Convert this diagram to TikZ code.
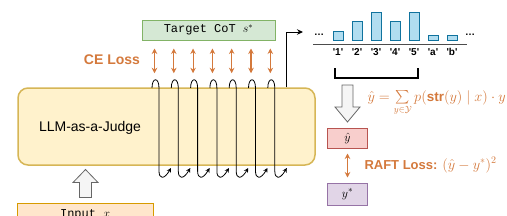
\documentclass[tikz,border=0pt]{standalone}
\usepackage{amsmath,amssymb}
\usepackage{fontspec}
\setmainfont{Liberation Sans}
\setmonofont{Liberation Mono}
\usetikzlibrary{calc, positioning, arrows.meta}

\definecolor{lossc}{HTML}{D4793C}
\definecolor{tgtfill}{HTML}{D5E8D4}
\definecolor{tgtline}{HTML}{82B366}
\definecolor{llmfill}{HTML}{FFF2CC}
\definecolor{llmline}{HTML}{D6B656}
\definecolor{hatfill}{HTML}{F8CECC}
\definecolor{hatline}{HTML}{B85450}
\definecolor{gtfill}{HTML}{E1D5E7}
\definecolor{gtline}{HTML}{9673A6}
\definecolor{infill}{HTML}{FFE6CC}
\definecolor{inline}{HTML}{D79B00}
\definecolor{barfill}{HTML}{B1DDF0}
\definecolor{barline}{HTML}{10739E}
\newcommand{\sq}[1]{\textquotesingle#1\textquotesingle}

\begin{document}
\begin{tikzpicture}[
  x=1pt, y=-1pt,
  box/.style={draw, line width=1pt, inner sep=0pt},
  monobox/.style={box, font=\ttfamily\fontsize{12}{14}\selectfont},
  tgtbox/.style={monobox, fill=tgtfill, draw=tgtline, minimum width=133pt, minimum height=20pt},
  inbox/.style={monobox, fill=infill, draw=inline, minimum width=136pt, minimum height=24pt},
  valbox/.style={box, minimum width=40pt, minimum height=20pt, font=\fontsize{13}{15}\selectfont},
  loss/.style={text=lossc, font=\bfseries\fontsize{14}{16}\selectfont},
  lossarr/.style={{Stealth[length=5.5pt,width=5.5pt]}-{Stealth[length=5.5pt,width=5.5pt]},
    draw=lossc, line width=1.2pt},
  coil/.style={-{Stealth[length=4.5pt,width=4.5pt]}, line width=0.8pt},
  bar/.style={draw=barline, fill=barfill, line width=0.8pt},
  lbl/.style={font=\bfseries\fontsize{10}{12}\selectfont},
  hollow/.style={draw=black!60, fill=black!4, line width=0.8pt, line join=miter}]
  \useasboundingbox (0,0) rectangle (507,215);
  \clip (0,0) rectangle (507,215);
  % Judge model
  \node[box, fill=llmfill, draw=llmline, line width=1.5pt, rounded corners=10pt,
    minimum width=297pt, minimum height=77pt] (llm) at (166.5,126.5) {};
  \node[font=\fontsize{14}{16}\selectfont] (llmtxt) at (90,128) {LLM-as-a-Judge};
  \node[tgtbox] (tgt) at (208.5,30) {Target CoT $s^*$};
  \node[inbox] (in) at (85,215) {Input $x$};
  % Token-by-token decoding
  \foreach \i in {0,...,6} {
    \pgfmathsetmacro{\xa}{152+19.3*\i}
    \draw[coil] (\xa,88) .. controls (\xa,77) and (\xa+7,77) .. (\xa+7,88)
      -- (\xa+7,171) .. controls (\xa+7,179) and (\xa+12,180) .. (\xa+19,168);
    \draw[lossarr] ($(tgt.south -| \xa+2.5,0)+(0,8)$) -- ($(llm.north -| \xa+2.5,0)+(0,-14)$);
  }
  \node[loss] (ce) at (112,60) {CE Loss};
  % Score token distribution
  \coordinate (chartin) at (303,32);
  \draw[-{Stealth[length=6pt,width=5.5pt]}, line width=0.9pt] ($(llm.north east)+(-29,0)$) |- (chartin);
  \node[font=\bfseries] (dotl) at (319,35) {\dots};
  \node[font=\bfseries] (dotr) at (470,35) {\dots};
  \draw[line width=0.9pt, black!70] (313,44) -- (467,44);
  \foreach \t/\lab [count=\i from 0] in {31/1,21/2,12/3,21/4,12/5,35/a,35/b} {
    \pgfmathsetmacro{\xb}{333+19*\i}
    \draw[bar] (\xb,40) rectangle (\xb+10,\t);
    \node[lbl] (lbl\lab) at (\xb+5,52) {\sq{\lab}};
  }
  \draw[line width=1.3pt] (335,68) -- (335,78) -- (418,78) -- (418,68);
  % Expected score
  \coordinate (dntip) at (347.5,122);
  \draw[hollow] (dntip) -- ++(12.5,-15) -- ++(-7,0) -- ++(0,-22) -- ++(-11,0)
    -- ++(0,22) -- ++(-7,0) -- cycle;
  \node[text=lossc, anchor=base west, font=\fontsize{13.5}{16}\selectfont] (fml) at (364,101)
    {$\hat{y} = \sum\limits_{y \in \mathcal{Y}} p(\textbf{str}(y) \mid x) \cdot y$};
  \node[valbox, fill=hatfill, draw=hatline] (yhat) at (347.5,138) {$\hat{y}$};
  \node[valbox, fill=gtfill, draw=gtline, minimum height=22pt] (ystar) at (347.5,194) {$y^*$};
  \draw[lossarr, shorten <=5pt, shorten >=5pt] (yhat) -- (ystar);
  \node[loss, anchor=west, font=\bfseries\fontsize{13}{15}\selectfont] (raft) at (361,165)
    {RAFT Loss: {\fontsize{14}{16}\selectfont$(\hat{y} - y^*)^2$}};
  % Input to model
  \coordinate (uptip) at ($(in.north)+(0.5,-33)$);
  \draw[hollow] (uptip) -- ++(12.5,13) -- ++(-6.5,0) -- ++(0,15) -- ++(-12,0)
    -- ++(0,-15) -- ++(-6.5,0) -- cycle;
\end{tikzpicture}
\end{document}
